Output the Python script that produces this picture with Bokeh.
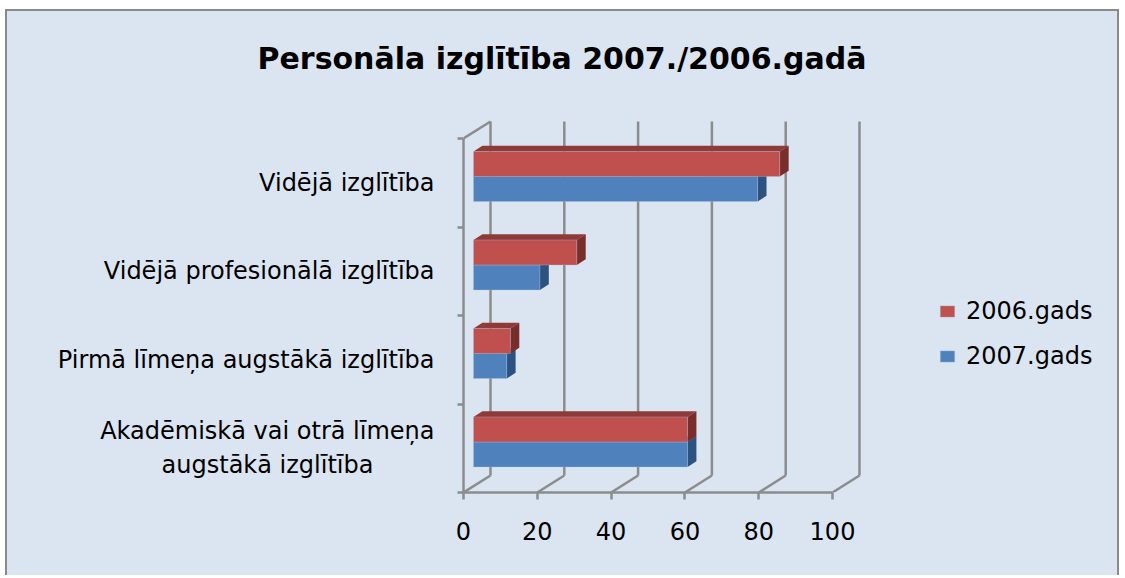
from bokeh.plotting import figure
from bokeh.models import FixedTicker, Range1d, Legend, LegendItem, Title, LinearAxis
from bokeh.embed import file_html
from bokeh.resources import INLINE

# ---- data (bottom to top) ----
NB = "\u00a0" * 8
categories = [
    "Akadēmiskā vai otrā līmeņa\naugstākā izglītība" + NB,
    "Pirmā līmeņa augstākā izglītība",
    "Vidējā profesionālā izglītība",
    "Vidējā izglītība",
]
v2006 = [58, 10, 28, 83]
v2007 = [58, 9, 18, 77]
series_names = ["2006.gads", "2007.gads"]
x_ticks = [0, 20, 40, 60, 80, 100]

# ---- styling / geometry ----
BG = "#DBE5F1"
GRID = "#8C8C8C"
FONT = "DejaVu Sans"
RED = ("#C0504D", "#8E3A38", "#7A2E2C")   # front, top, side
BLUE = ("#4F81BD", "#3B6293", "#2E5280")

W, H = 1114, 566
ML, MB, MT, MR = 456, 85, 103, 14
PXX, PXY = 3.69, 88.5
x_end = (W - ML - MR) / PXX
y_end = (H - MT - MB) / PXY
DX, DY = 27 / PXX, 17 / PXY          # depth of the 3D box in data units
F0, F1 = 0.37, 0.70                  # bar depth fractions
BAR_H = 25 / PXY

p = figure(width=W, height=H, x_range=Range1d(0, x_end), y_range=Range1d(0, y_end),
           output_backend="svg", toolbar_location=None,
           min_border_left=ML, min_border_right=MR, min_border_top=MT, min_border_bottom=MB,
           background_fill_color=BG, border_fill_color=BG, outline_line_color=None,
           styles={"margin-left": "5px", "margin-top": "9px", "background-color": BG,
                   "border-top": "2px solid #8a8a8a", "border-left": "2px solid #8a8a8a",
                   "border-right": "2px solid #8a8a8a"})
p.grid.visible = False

p.title = Title(text="Personāla izglītība 2007./2006.gadā", align="left", offset=-206,
                text_font=FONT, text_font_size="30px", text_font_style="bold",
                text_color="#000000", standoff=10)

# main axes (x axis below)
xa = p.below[0]
ya = p.left[0]

# invisible spacer between title and plot frame
spacer = LinearAxis(ticker=FixedTicker(ticks=[0]), axis_line_color=None,
                    major_tick_out=34, major_tick_in=0, minor_tick_out=0, minor_tick_in=0,
                    major_tick_line_color=None, minor_tick_line_color=None,
                    major_label_overrides={0: ""},
                    major_label_standoff=0, major_label_text_font_size="1px")
p.add_layout(spacer, "above")

# back wall gridlines and floor diagonals
ncat = len(categories)
p.segment(x0=[t + DX for t in x_ticks], y0=[DY] * len(x_ticks),
          x1=[t + DX for t in x_ticks], y1=[ncat + DY] * len(x_ticks),
          line_color=GRID, line_width=2.5)
p.segment(x0=x_ticks, y0=[0] * len(x_ticks), x1=[t + DX for t in x_ticks], y1=[DY] * len(x_ticks),
          line_color=GRID, line_width=2.5)
p.segment(x0=[0], y0=[ncat], x1=[DX], y1=[ncat + DY], line_color=GRID, line_width=2.5)


def draw_bars(vals, offset_sign, cols):
    lefts, rights, bots, tops = [], [], [], []
    top_xs, top_ys, side_xs, side_ys = [], [], [], []
    for i, v in enumerate(vals):
        c = i + 0.5
        yb = c if offset_sign > 0 else c - BAR_H
        yt = yb + BAR_H
        x0f, x1f = F0 * DX, v + F0 * DX
        x0b, x1b = F1 * DX, v + F1 * DX
        yb_f, yt_f = yb + F0 * DY, yt + F0 * DY
        yb_b, yt_b = yb + F1 * DY, yt + F1 * DY
        lefts.append(x0f); rights.append(x1f); bots.append(yb_f); tops.append(yt_f)
        top_xs.append([x0f, x1f, x1b, x0b]); top_ys.append([yt_f, yt_f, yt_b, yt_b])
        side_xs.append([x1f, x1b, x1b, x1f]); side_ys.append([yb_f, yb_b, yt_b, yt_f])
    p.patches(top_xs, top_ys, fill_color=cols[1], line_color=None)
    p.patches(side_xs, side_ys, fill_color=cols[2], line_color=None)
    return p.quad(left=lefts, right=rights, bottom=bots, top=tops,
                  fill_color=cols[0], line_color="#A9BFDC", line_width=0.6, line_alpha=0.6)


r07 = draw_bars(v2007, -1, BLUE)
r06 = draw_bars(v2006, +1, RED)

xa.ticker = FixedTicker(ticks=x_ticks)
xa.bounds = (0, 100)
xa.axis_line_color = GRID
xa.axis_line_width = 2.5
xa.major_tick_line_color = GRID
xa.major_tick_line_width = 2.5
xa.major_tick_out = 7
xa.major_tick_in = 0
xa.minor_tick_out = 0
xa.minor_tick_in = 0
xa.major_label_text_font = FONT
xa.major_label_text_font_size = "24px"
xa.major_label_text_color = "#000000"
xa.major_label_standoff = 22

ya.ticker = FixedTicker(ticks=[i + 0.5 for i in range(ncat)], minor_ticks=list(range(ncat + 1)))
ya.major_label_overrides = {i + 0.5: lab for i, lab in enumerate(categories)}
ya.bounds = (0, ncat)
ya.axis_line_color = GRID
ya.axis_line_width = 2.5
ya.major_tick_out = 0
ya.major_tick_in = 0
ya.minor_tick_line_color = GRID
ya.minor_tick_line_width = 2.5
ya.minor_tick_out = 6
ya.minor_tick_in = 0
ya.major_label_text_font = FONT
ya.major_label_text_font_size = "24px"
ya.major_label_text_color = "#000000"
ya.major_label_standoff = 23

legend = Legend(items=[LegendItem(label=series_names[0], renderers=[r06]),
                       LegendItem(label=series_names[1], renderers=[r07])],
                location=(475, 122), glyph_width=18, glyph_height=14,
                label_text_font=FONT, label_text_font_size="24px", label_standoff=10,
                label_text_color="#000000",
                spacing=17, padding=0, margin=0, border_line_color=None,
                background_fill_alpha=0)
p.add_layout(legend)

open("out.html", "w").write(file_html(p, INLINE))
